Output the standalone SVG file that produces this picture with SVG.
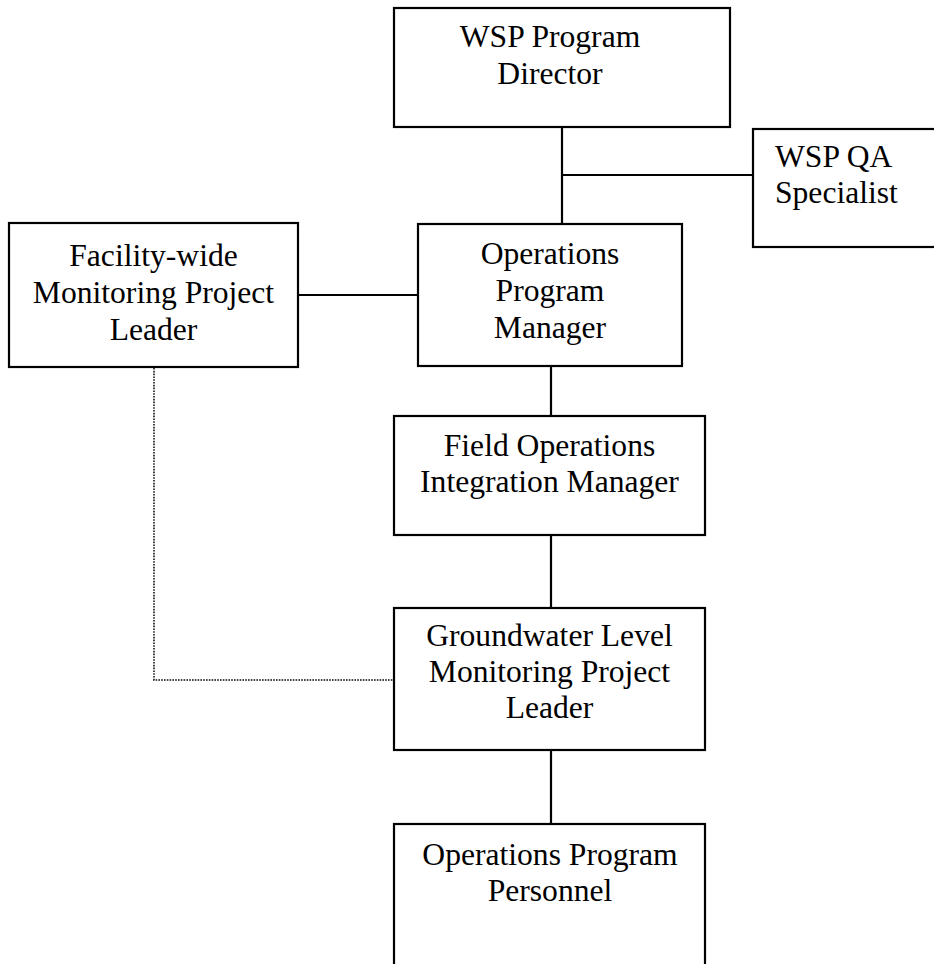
<svg xmlns="http://www.w3.org/2000/svg" width="934" height="964" viewBox="0 0 934 964">
<style>
.box{fill:#fff;stroke:#000;stroke-width:2.2}
.t{font-family:"Liberation Serif","Times New Roman",serif;font-size:31.6px;fill:#000;text-anchor:middle}
.tl{text-anchor:start}
.c{stroke:#000;stroke-width:2.2;fill:none}
.d{stroke:#444;stroke-width:2;fill:none;stroke-dasharray:1.6 1.2}
</style>
<rect width="934" height="964" fill="#fff"/>
<g id="connectors">
<line class="c" x1="562" y1="127" x2="562" y2="224"/>
<line class="c" x1="562" y1="175" x2="753" y2="175"/>
<line class="c" x1="298" y1="295" x2="418" y2="295"/>
<line class="c" x1="551" y1="366" x2="551" y2="416"/>
<line class="c" x1="551" y1="535" x2="551" y2="608"/>
<line class="c" x1="551" y1="750" x2="551" y2="824"/>
<polyline class="d" points="154,368 154,680 393,680"/>
</g>
<g id="director">
<rect class="box" x="394" y="8" width="336" height="119"/>
<text class="t" x="550" y="47">WSP Program</text>
<text class="t" x="550" y="84">Director</text>
</g>
<g id="qa">
<rect class="box" x="753" y="129" width="200" height="118"/>
<text class="t tl" x="775" y="167">WSP QA</text>
<text class="t tl" x="775" y="203">Specialist</text>
</g>
<g id="facility">
<rect class="box" x="9" y="223" width="289" height="144"/>
<text class="t" x="153.5" y="266">Facility-wide</text>
<text class="t" x="153.5" y="303">Monitoring Project</text>
<text class="t" x="153.5" y="340">Leader</text>
</g>
<g id="opm">
<rect class="box" x="418" y="224" width="264" height="142"/>
<text class="t" x="550" y="264">Operations</text>
<text class="t" x="550" y="301">Program</text>
<text class="t" x="550" y="338">Manager</text>
</g>
<g id="field">
<rect class="box" x="394" y="416" width="311" height="119"/>
<text class="t" x="549.5" y="456">Field Operations</text>
<text class="t" x="549.5" y="492">Integration Manager</text>
</g>
<g id="groundwater">
<rect class="box" x="394" y="608" width="311" height="142"/>
<text class="t" x="549.5" y="646">Groundwater Level</text>
<text class="t" x="549.5" y="682">Monitoring Project</text>
<text class="t" x="549.5" y="718">Leader</text>
</g>
<g id="personnel">
<rect class="box" x="394" y="824" width="311" height="160"/>
<text class="t" x="550" y="865">Operations Program</text>
<text class="t" x="550" y="901">Personnel</text>
</g>
</svg>
